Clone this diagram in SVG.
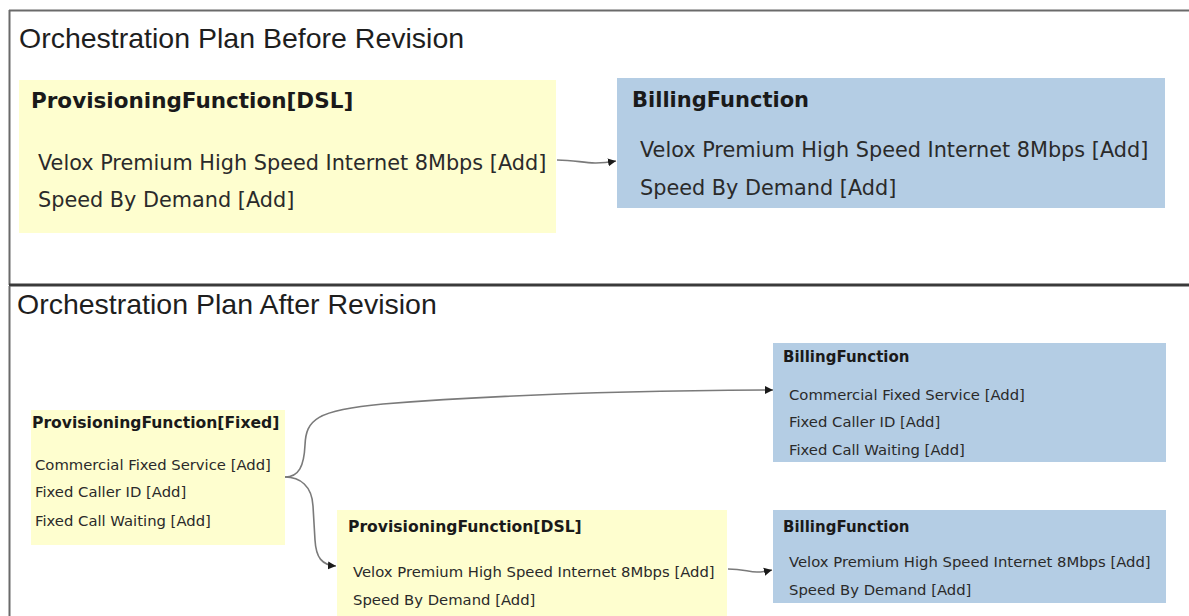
<svg xmlns="http://www.w3.org/2000/svg" width="1189" height="616" viewBox="0 0 1189 616">
  <style>
    .frame { stroke: #6a6a6a; stroke-width: 2; fill: none; }
    .sep { stroke: #3a3a3a; stroke-width: 3; fill: none; }
    .head { font-family: "Liberation Sans", Arial, sans-serif; font-size: 28.5px; fill: #1e1e1e; }
    .prov { fill: #FEFECF; }
    .bill { fill: #B4CDE4; }
    .t1 { font-family: "DejaVu Sans", Verdana, sans-serif; font-weight: bold; font-size: 21.5px; fill: #1a1a1a; }
    .i1 { font-family: "DejaVu Sans", Verdana, sans-serif; font-size: 20.8px; fill: #2a2a2a; }
    .t2 { font-family: "DejaVu Sans", Verdana, sans-serif; font-weight: bold; font-size: 15.6px; fill: #1a1a1a; }
    .i2 { font-family: "DejaVu Sans", Verdana, sans-serif; font-size: 14.8px; fill: #2a2a2a; }
    .conn { stroke: #7a7a7a; stroke-width: 1.6; fill: none; }
  </style>
  <defs>
    <marker id="arrow" markerUnits="userSpaceOnUse" markerWidth="9" markerHeight="9" refX="8" refY="4.5" orient="auto">
      <path d="M0,0.5 L8,4.5 L0,8.5 Z" fill="#1a1a1a"/>
    </marker>
  </defs>
  <rect width="1189" height="616" fill="#ffffff"/>

  <g id="frames">
    <line class="frame" x1="9" y1="10.5" x2="1189" y2="10.5"/>
    <line class="frame" x1="9.5" y1="10" x2="9.5" y2="285"/>
    <line class="sep" x1="9" y1="285" x2="1189" y2="285"/>
    <line class="frame" x1="9.5" y1="286" x2="9.5" y2="616"/>
  </g>

  <text class="head" x="19" y="48">Orchestration Plan Before Revision</text>
  <text class="head" x="17" y="314">Orchestration Plan After Revision</text>

  <g id="connectors">
    <path class="conn" d="M557,160 C582,160 588,166 616,161" marker-end="url(#arrow)"/>
    <path class="conn" d="M285,477 C299,477 304,466 305,445 C306,420 316,410 383,404 C480,396 600,391 773,390" marker-end="url(#arrow)"/>
    <path class="conn" d="M285,477 C300,477 312,486 313,506 L315,540 C316,558 322,565 336,566" marker-end="url(#arrow)"/>
    <path class="conn" d="M728,569 C750,569 750,575 772,570" marker-end="url(#arrow)"/>
  </g>

  <g id="prov-dsl-before">
    <rect class="prov" x="19" y="80" width="537" height="153"/>
    <text class="t1" x="31" y="108">ProvisioningFunction[DSL]</text>
    <text class="i1" x="38" y="170">Velox Premium High Speed Internet 8Mbps [Add]</text>
    <text class="i1" x="38" y="207">Speed By Demand [Add]</text>
  </g>

  <g id="billing-before">
    <rect class="bill" x="617" y="78" width="548" height="130"/>
    <text class="t1" x="632" y="107" style="font-size:21px">BillingFunction</text>
    <text class="i1" x="640" y="157">Velox Premium High Speed Internet 8Mbps [Add]</text>
    <text class="i1" x="640" y="195">Speed By Demand [Add]</text>
  </g>

  <g id="prov-fixed-after">
    <rect class="prov" x="31" y="410" width="254" height="135"/>
    <text class="t2" x="32" y="428">ProvisioningFunction[Fixed]</text>
    <text class="i2" x="35" y="470">Commercial Fixed Service [Add]</text>
    <text class="i2" x="35" y="497">Fixed Caller ID [Add]</text>
    <text class="i2" x="35" y="526">Fixed Call Waiting [Add]</text>
  </g>

  <g id="prov-dsl-after">
    <rect class="prov" x="337" y="510" width="390" height="106"/>
    <text class="t2" x="348" y="532">ProvisioningFunction[DSL]</text>
    <text class="i2" x="353" y="577">Velox Premium High Speed Internet 8Mbps [Add]</text>
    <text class="i2" x="353" y="605">Speed By Demand [Add]</text>
  </g>

  <g id="billing-fixed-after">
    <rect class="bill" x="773" y="343" width="393" height="119"/>
    <text class="t2" x="783" y="362" style="font-size:15px">BillingFunction</text>
    <text class="i2" x="789" y="400">Commercial Fixed Service [Add]</text>
    <text class="i2" x="789" y="427">Fixed Caller ID [Add]</text>
    <text class="i2" x="789" y="455">Fixed Call Waiting [Add]</text>
  </g>

  <g id="billing-dsl-after">
    <rect class="bill" x="773" y="510" width="393" height="93"/>
    <text class="t2" x="783" y="532" style="font-size:15px">BillingFunction</text>
    <text class="i2" x="789" y="567">Velox Premium High Speed Internet 8Mbps [Add]</text>
    <text class="i2" x="789" y="595">Speed By Demand [Add]</text>
  </g>
</svg>
